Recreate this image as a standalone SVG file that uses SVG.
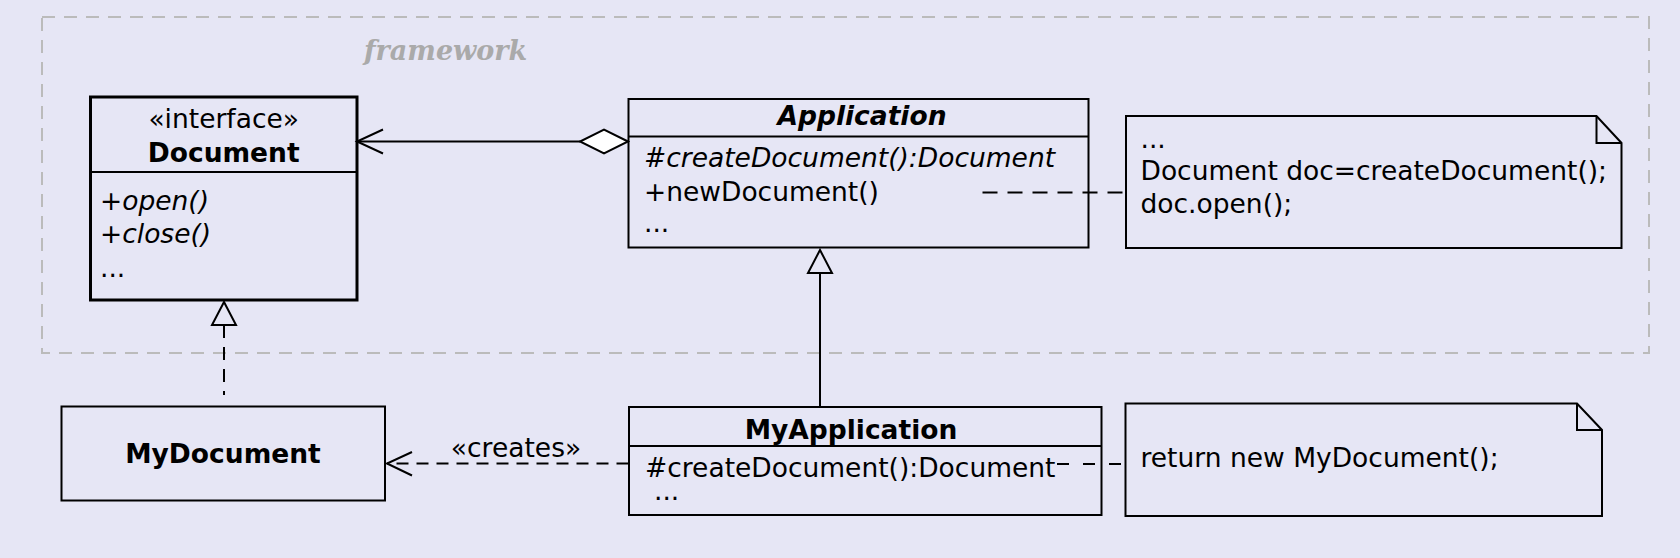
<svg xmlns="http://www.w3.org/2000/svg" width="1680" height="558" viewBox="0 0 1680 558">
<style>
text{font-family:"DejaVu Sans","Noto Sans",sans-serif;font-size:26.5px;fill:#000}
.b{font-weight:bold}
.i{font-style:italic}
.mid{text-anchor:middle}
.box{fill:#E6E6F5;stroke:#000;stroke-width:2}
.thick{stroke-width:3}
.ln{fill:none;stroke:#000;stroke-width:2}
.dash{fill:none;stroke:#000;stroke-width:2;stroke-dasharray:13,9}
.frame{fill:none;stroke:#BBBBBB;stroke-width:2;stroke-dasharray:13,9}
.fw{font-family:"DejaVu Serif","Liberation Serif",serif;font-size:27px;font-weight:bold;font-style:italic;fill:#AAAAAA}
</style>
<rect x="0" y="0" width="1680" height="558" fill="#E6E6F5"/>
<g id="framework">
<rect class="frame" x="42" y="17" width="1607" height="336"/>
<text class="fw" x="364" y="60">framework</text>
</g>
<g id="Document">
<rect class="box thick" x="90.5" y="97" width="266.5" height="203"/>
<line class="ln" x1="90.5" y1="172" x2="357" y2="172"/>
<text class="mid" x="223.7" y="128">«interface»</text>
<text class="mid b" x="223.7" y="162">Document</text>
<text x="100" y="210">+<tspan class="i">open()</tspan></text>
<text x="100" y="243">+<tspan class="i">close()</tspan></text>
<text x="100" y="277">...</text>
</g>
<g id="Application">
<rect class="box" x="628.5" y="99" width="460" height="148.5"/>
<line class="ln" x1="628.5" y1="136.5" x2="1088.5" y2="136.5"/>
<text class="mid b i" x="862" y="125">Application</text>
<text class="i" x="644" y="167">#createDocument():Document</text>
<text x="644" y="200.5">+newDocument()</text>
<text x="644" y="231.5">...</text>
</g>
<g id="Note1">
<path class="box" d="M1126,116 H1596.5 L1621.5,143 V248 H1126 Z"/>
<path class="ln" d="M1596.5,116 V143 H1621.5"/>
<text x="1140.5" y="148">...</text>
<text x="1140.5" y="180">Document doc=createDocument();</text>
<text x="1140.5" y="213">doc.open();</text>
</g>
<g id="MyDocument">
<rect class="box" x="61.5" y="406.5" width="323.5" height="94"/>
<text class="mid b" x="223" y="462.5">MyDocument</text>
</g>
<g id="MyApplication">
<rect class="box" x="629" y="407" width="472.5" height="108"/>
<line class="ln" x1="629" y1="446" x2="1101.5" y2="446"/>
<text class="mid b" x="851" y="438.5">MyApplication</text>
<text x="645" y="476.5">#createDocument():Document</text>
<text x="654" y="500">...</text>
</g>
<g id="Note2">
<path class="box" d="M1125.5,403.5 H1577 L1602,430 V516 H1125.5 Z"/>
<path class="ln" d="M1577,403.5 V430 H1602"/>
<text x="1140.5" y="467">return new MyDocument();</text>
</g>
<g id="connectors">
<line class="ln" x1="357" y1="141.5" x2="580" y2="141.5"/>
<polyline class="ln" points="383,129.5 357,141.5 383,153.5"/>
<polygon points="628,141.5 604,129.5 580,141.5 604,153.5" fill="#FFFFFF" stroke="#000" stroke-width="2"/>
<line class="dash" x1="982.5" y1="192.5" x2="1126" y2="192.5" style="stroke-dasharray:15,10"/>
<line class="ln" x1="820" y1="407" x2="820" y2="273"/>
<polygon points="820,250 808,273 832,273" fill="#E6E6F5" stroke="#000" stroke-width="2"/>
<line class="dash" x1="224" y1="325" x2="224" y2="395"/>
<polygon points="224,302 212,325 236,325" fill="#E6E6F5" stroke="#000" stroke-width="2"/>
<line class="dash" x1="628.5" y1="463.5" x2="387" y2="463.5" style="stroke-dasharray:12,8"/>
<polyline class="ln" points="412,452 387,463.5 412,475.5"/>
<text x="516" y="456.5" class="mid">«creates»</text>
<line class="dash" x1="1057" y1="464" x2="1125.5" y2="464" style="stroke-dasharray:12,14"/>
</g>
</svg>
